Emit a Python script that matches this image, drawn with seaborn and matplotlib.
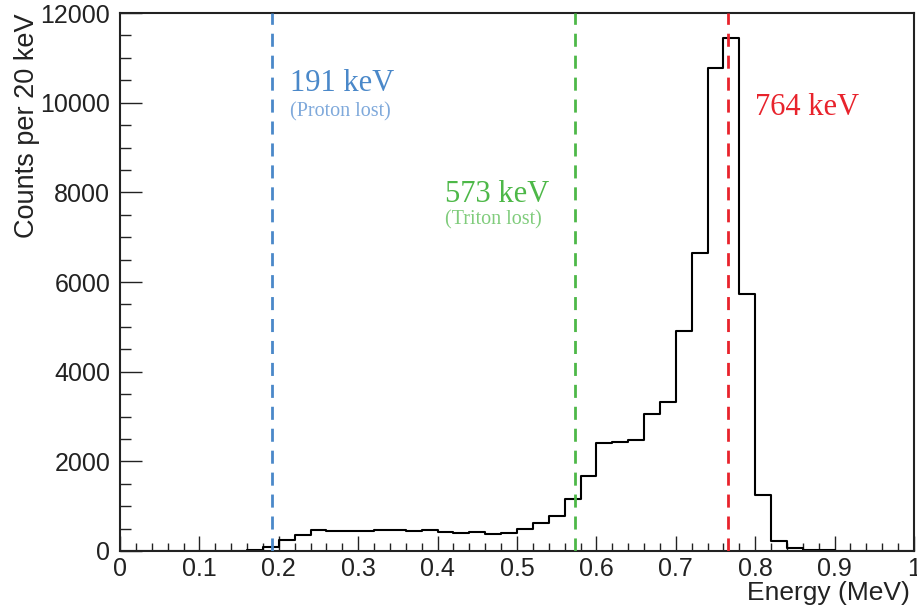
import numpy as np
import pandas as pd
import matplotlib
matplotlib.use("Agg")
import matplotlib.pyplot as plt
import seaborn as sns
from matplotlib.ticker import MultipleLocator, FixedLocator

# ---- data ----
bin_width = 0.02  # MeV (20 keV)
bin_low = np.round(np.arange(0.0, 1.0, bin_width), 2)
counts = [5, 5, 5, 5, 5, 5, 10, 10, 20, 100,
          250, 360, 470, 435, 455, 435, 470, 470, 450, 470,
          420, 395, 415, 375, 400, 490, 620, 790, 1160, 1670,
          2420, 2440, 2480, 3060, 3330, 4900, 6640, 10780, 11440, 5730,
          1245, 225, 60, 25, 15, 10, 5, 5, 3, 3]
line_energies = [0.191, 0.573, 0.766]
line_labels = ["191 keV", "573 keV", "764 keV"]
line_sublabels = ["(Proton lost)", "(Triton lost)", ""]
line_colors = ["#4a88c9", "#4db848", "#e8232c"]
sub_colors = ["#7fa9db", "#80cc7c", "#e8232c"]
x_ticks = [0, 0.1, 0.2, 0.3, 0.4, 0.5, 0.6, 0.7, 0.8, 0.9, 1]
x_ticklabels = ["0", "0.1", "0.2", "0.3", "0.4", "0.5", "0.6", "0.7", "0.8", "0.9", "1"]
y_ticks = [0, 2000, 4000, 6000, 8000, 10000, 12000]

df = pd.DataFrame({"energy": bin_low + bin_width / 2, "counts": counts})

sns.set_style("ticks")
plt.rcParams["font.family"] = ["Liberation Sans", "DejaVu Sans"]

fig = plt.figure(figsize=(9.17, 6.11), dpi=100)
ax = fig.add_axes([0.1309, 0.0982, 0.8658, 0.8805])

sns.histplot(data=df, x="energy", weights="counts", binwidth=bin_width,
             binrange=(0.0, 1.0), element="step", fill=False, color="black",
             linewidth=1.5, ax=ax)

for e, c in zip(line_energies, line_colors):
    ax.axvline(e, color=c, linewidth=2.0, dashes=(4.7, 3.2), zorder=3)

ax.set_xlim(0, 1)
ax.set_ylim(0, 12000)

# annotations (positions in data coords)
serif = ["Liberation Serif", "DejaVu Serif"]
ax.text(0.214, 10260, line_labels[0], color=line_colors[0], fontsize=22,
        family=serif, ha="left", va="baseline")
ax.text(0.214, 9700, line_sublabels[0], color=sub_colors[0], fontsize=14.5,
        family=serif, ha="left", va="baseline")
ax.text(0.409, 7780, line_labels[1], color=line_colors[1], fontsize=22,
        family=serif, ha="left", va="baseline")
ax.text(0.409, 7290, line_sublabels[1], color=sub_colors[1], fontsize=14.5,
        family=serif, ha="left", va="baseline")
ax.text(0.800, 9730, line_labels[2], color=line_colors[2], fontsize=22,
        family=serif, ha="left", va="baseline")

# ticks
ax.xaxis.set_major_locator(FixedLocator(x_ticks))
ax.set_xticklabels(x_ticklabels)
ax.xaxis.set_minor_locator(MultipleLocator(0.02))
ax.yaxis.set_major_locator(FixedLocator(y_ticks))
ax.yaxis.set_minor_locator(MultipleLocator(500))
ax.tick_params(axis="x", which="major", direction="in", length=11, width=1.0,
               labelsize=18, pad=4, colors="#222222", top=False)
ax.tick_params(axis="x", which="minor", direction="in", length=6, width=1.0,
               top=False, colors="#222222")
ax.tick_params(axis="y", which="major", direction="in", length=16, width=1.0,
               labelsize=18, pad=7, colors="#222222", right=False)
ax.tick_params(axis="y", which="minor", direction="in", length=8, width=1.0,
               right=False, colors="#222222")

for s in ax.spines.values():
    s.set_linewidth(1.5)
    s.set_color("#222222")
    s.set_visible(True)

ax.set_xlabel("Energy (MeV)", fontsize=19, loc="right", labelpad=0, color="#222222")
ax.xaxis.get_label().set_x(0.995)
ax.set_ylabel("Counts per 20 keV", fontsize=19.5, loc="top", labelpad=0.5, color="#222222")

fig.savefig("out.png", dpi=100)
